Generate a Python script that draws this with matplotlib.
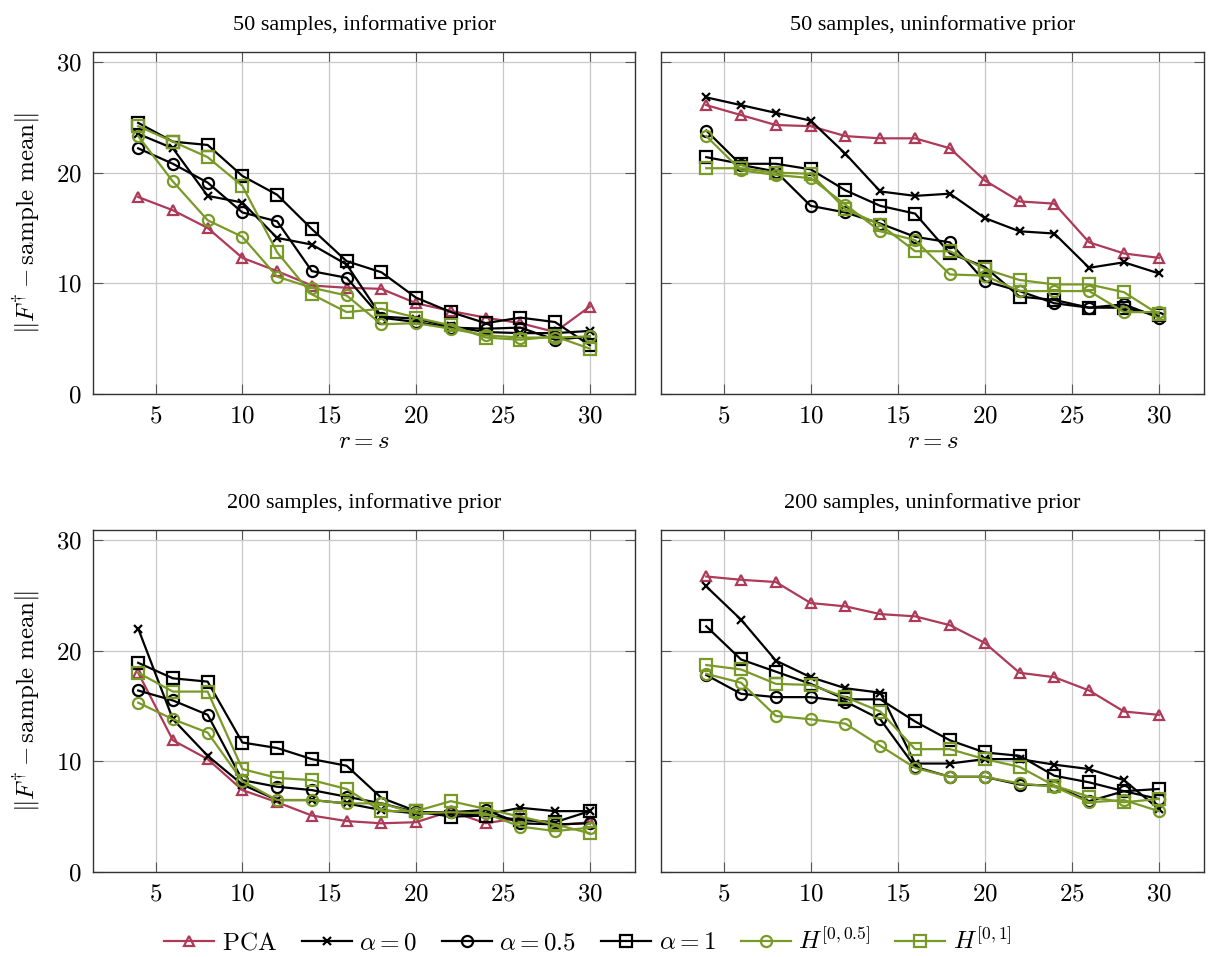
import matplotlib
matplotlib.use("Agg")
import matplotlib.pyplot as plt
from matplotlib.ticker import FixedLocator, FuncFormatter

plt.rcParams['mathtext.fontset'] = 'cm'
plt.rcParams['font.family'] = ['Liberation Serif', 'DejaVu Serif']

x = [4, 6, 8, 10, 12, 14, 16, 18, 20, 22, 24, 26, 28, 30]

titles = ["50 samples, informative prior", "50 samples, uninformative prior",
          "200 samples, informative prior", "200 samples, uninformative prior"]

labels = [r'$\mathrm{PCA}$', r'$\alpha = 0$', r'$\alpha = 0.5$', r'$\alpha = 1$',
          r'$H^{[0,0.5]}$', r'$H^{[0,1]}$']

# 50 samples, informative prior
pca_50_inf = [17.8, 16.6, 15.0, 12.3, 11.1, 9.8, 9.6, 9.5, 8.2, 7.5, 6.9, 6.4, 5.6, 7.9]
a0_50_inf = [23.5, 22.2, 17.9, 17.3, 14.1, 13.5, 11.7, 7.0, 6.8, 6.1, 5.6, 5.5, 5.5, 5.7]
a05_50_inf = [22.2, 20.8, 19.1, 16.4, 15.6, 11.1, 10.5, 6.9, 6.5, 6.0, 5.9, 6.0, 4.9, 5.2]
a1_50_inf = [24.5, 22.8, 22.5, 19.7, 18.0, 14.9, 12.0, 11.0, 8.7, 7.4, 6.4, 6.9, 6.5, 4.4]
h05_50_inf = [23.3, 19.2, 15.7, 14.2, 10.6, 9.6, 8.9, 6.3, 6.4, 5.9, 5.3, 5.1, 5.1, 5.2]
h1_50_inf = [24.2, 22.8, 21.4, 18.8, 12.8, 9.0, 7.4, 7.7, 6.9, 6.2, 5.1, 4.9, 5.2, 4.1]

# 50 samples, uninformative prior
pca_50_uninf = [26.1, 25.2, 24.3, 24.2, 23.3, 23.1, 23.1, 22.2, 19.3, 17.4, 17.2, 13.7, 12.7, 12.3]
a0_50_uninf = [26.8, 26.1, 25.4, 24.7, 21.7, 18.3, 17.9, 18.1, 15.9, 14.7, 14.5, 11.4, 11.9, 10.9]
a05_50_uninf = [23.8, 20.7, 20.1, 17.0, 16.4, 15.4, 14.2, 13.7, 10.2, 9.3, 8.2, 7.8, 8.1, 6.9]
a1_50_uninf = [21.4, 20.8, 20.8, 20.3, 18.4, 17.0, 16.3, 12.7, 11.5, 8.8, 8.5, 7.8, 7.8, 7.1]
h05_50_uninf = [23.3, 20.2, 19.8, 19.5, 17.1, 14.7, 13.9, 10.8, 10.7, 9.3, 9.3, 9.3, 7.4, 7.4]
h1_50_uninf = [20.4, 20.4, 20.0, 19.9, 16.7, 15.3, 12.9, 12.9, 11.3, 10.3, 9.9, 9.9, 9.2, 7.2]

# 200 samples, informative prior
pca_200_inf = [18.0, 11.9, 10.2, 7.4, 6.3, 5.1, 4.6, 4.4, 4.5, 5.5, 4.4, 4.9, 4.2, 4.5]
a0_200_inf = [22.0, 13.8, 10.5, 7.9, 6.5, 6.5, 6.2, 5.6, 5.3, 5.3, 5.2, 5.8, 5.5, 5.5]
a05_200_inf = [16.4, 15.5, 14.2, 8.3, 7.7, 7.4, 6.8, 6.2, 5.4, 5.4, 5.6, 4.4, 4.3, 4.4]
a1_200_inf = [18.9, 17.5, 17.2, 11.7, 11.2, 10.2, 9.6, 6.7, 5.5, 5.0, 5.1, 4.7, 4.5, 5.5]
h05_200_inf = [15.3, 13.8, 12.6, 8.2, 6.5, 6.5, 6.2, 6.2, 5.3, 5.4, 5.3, 4.1, 3.7, 4.0]
h1_200_inf = [18.0, 16.3, 16.3, 9.3, 8.5, 8.3, 7.5, 5.5, 5.5, 6.4, 5.7, 5.0, 4.3, 3.5]

# 200 samples, uninformative prior
pca_200_uninf = [26.7, 26.4, 26.2, 24.3, 24.0, 23.3, 23.1, 22.3, 20.7, 18.0, 17.6, 16.4, 14.5, 14.2]
a0_200_uninf = [25.8, 22.8, 19.1, 17.6, 16.6, 16.2, 9.8, 9.8, 10.2, 10.2, 9.7, 9.3, 8.3, 5.7]
a05_200_uninf = [17.8, 16.1, 15.8, 15.8, 15.4, 13.8, 9.5, 8.6, 8.6, 7.9, 7.8, 6.4, 7.3, 6.6]
a1_200_uninf = [22.2, 19.2, 18.1, 17.0, 15.6, 15.6, 13.6, 11.9, 10.8, 10.5, 8.7, 8.1, 7.3, 7.5]
h05_200_uninf = [17.9, 17.1, 14.1, 13.8, 13.4, 11.4, 9.4, 8.6, 8.6, 8.0, 7.7, 6.3, 6.5, 5.5]
h1_200_uninf = [18.7, 18.3, 17.0, 16.9, 15.8, 14.5, 11.1, 11.1, 10.2, 9.5, 7.8, 6.8, 6.3, 6.6]

panels = [
    [pca_50_inf, a0_50_inf, a05_50_inf, a1_50_inf, h05_50_inf, h1_50_inf],
    [pca_50_uninf, a0_50_uninf, a05_50_uninf, a1_50_uninf, h05_50_uninf, h1_50_uninf],
    [pca_200_inf, a0_200_inf, a05_200_inf, a1_200_inf, h05_200_inf, h1_200_inf],
    [pca_200_uninf, a0_200_uninf, a05_200_uninf, a1_200_uninf, h05_200_uninf, h1_200_uninf],
]

RED = '#ad3a58'
GREEN = '#7a9a28'
styles = [
    dict(color=RED, marker='^', ms=7),
    dict(color='black', marker='x', ms=5.5),
    dict(color='black', marker='o', ms=8),
    dict(color='black', marker='s', ms=8),
    dict(color=GREEN, marker='o', ms=8),
    dict(color=GREEN, marker='s', ms=8),
]

W, H = 1208, 957
fig = plt.figure(figsize=(W / 100, H / 100), dpi=100)

def frac(l, r, t, b):
    return [l / W, 1 - b / H, (r - l) / W, (b - t) / H]

rects = [frac(93, 635, 52, 394), frac(661, 1204, 52, 394),
         frac(93, 635, 530, 872), frac(661, 1204, 530, 872)]

handles = None
for i, (rect, series) in enumerate(zip(rects, panels)):
    ax = fig.add_axes(rect)
    hs = []
    for vals, st, lab in zip(series, styles, labels):
        h, = ax.plot(x, vals, color=st['color'], marker=st['marker'], ms=st['ms'],
                     mfc='none', mec=st['color'], mew=1.6, lw=1.6, label=lab)
        hs.append(h)
    handles = hs
    ax.set_xlim(1.4, 32.6)
    ax.set_ylim(0, 30.9)
    ax.xaxis.set_major_locator(FixedLocator([5, 10, 15, 20, 25, 30]))
    ax.yaxis.set_major_locator(FixedLocator([0, 10, 20, 30]))
    ax.xaxis.set_major_formatter(FuncFormatter(lambda v, p: f'${v:g}$'))
    ax.yaxis.set_major_formatter(FuncFormatter(lambda v, p: f'${v:g}$'))
    ax.grid(True, color='#c8c8c8', lw=0.9)
    ax.set_axisbelow(True)
    ax.tick_params(direction='in', length=7, width=0.8, color='#555555',
                   top=True, right=True, labelsize=18, pad=8)
    for sp in ax.spines.values():
        sp.set_linewidth(1.0)
        sp.set_color('#333333')
    ax.set_title(titles[i], fontsize=16, pad=16)
    ax.set_xlabel(r'$r = s$', fontsize=18, labelpad=3)
    if i % 2 == 0:
        ax.set_ylabel(r'$\Vert F^{\dagger} - \mathrm{sample\ mean}\Vert$', fontsize=18, labelpad=10)
    else:
        ax.tick_params(labelleft=False)

leg = fig.legend(handles=handles, labels=labels, loc='center',
                 bbox_to_anchor=(588 / W, 1 - 941 / H), ncol=6, frameon=True,
                 fontsize=18, handlelength=2.0, handletextpad=0.3, columnspacing=1.0,
                 borderpad=0.5)
leg.get_frame().set_facecolor('white')
leg.get_frame().set_edgecolor('white')
leg.get_frame().set_alpha(1.0)
leg.set_zorder(10)

fig.savefig('out.png', dpi=100)
